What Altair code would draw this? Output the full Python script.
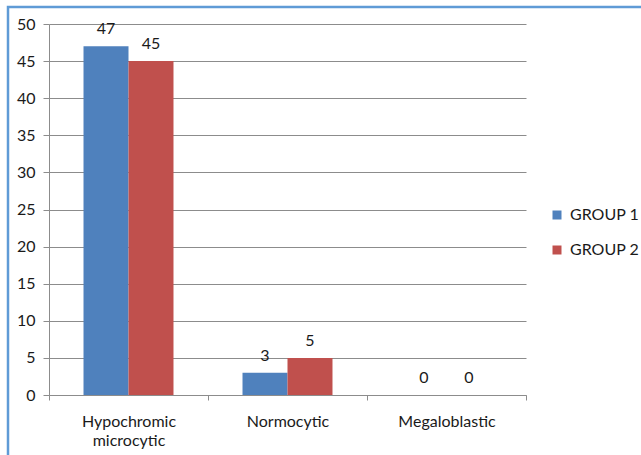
import altair as alt
import pandas as pd

categories = ["Hypochromic microcytic", "Normocytic", "Megaloblastic"]
groups = ["GROUP 1", "GROUP 2"]
group1 = [47, 3, 0]
group2 = [45, 5, 0]
colors = ["#4F81BD", "#C0504D"]

rows = []
for cat, a, b in zip(categories, group1, group2):
    rows.append({"category": cat, "group": groups[0], "value": a})
    rows.append({"category": cat, "group": groups[1], "value": b})
df = pd.DataFrame(rows)

FONT = "Lato"
FS = 16
TEXT = "#1a1a1a"
W, H = 477, 371
PAD_L, PAD_T = 49, 24

x_enc = alt.X(
    "category:N",
    sort=categories,
    scale=alt.Scale(paddingInner=0, paddingOuter=0),
    axis=alt.Axis(
        title=None,
        labelAngle=0,
        labelExpr="split(datum.label, ' ')",
        labelFont=FONT,
        labelFontSize=FS,
        labelColor=TEXT,
        labelPadding=13,
        labelLineHeight=19,
        tickBand="extent",
        tickSize=5,
        tickColor="#8c8c8c",
        domainColor="#8c8c8c",
        grid=False,
    ),
)
xoff_enc = alt.XOffset(
    "group:N", sort=groups, scale=alt.Scale(paddingInner=0, paddingOuter=0.767)
)
y_enc = alt.Y(
    "value:Q",
    scale=alt.Scale(domain=[0, 50], nice=False),
    axis=alt.Axis(
        title=None,
        values=list(range(0, 51, 5)),
        labelOverlap=False,
        labelFont=FONT,
        labelFontSize=FS,
        labelColor=TEXT,
        labelPadding=8,
        tickSize=6,
        tickColor="#8c8c8c",
        domainColor="#8c8c8c",
        gridColor="#8c8c8c",
        gridWidth=1,
    ),
)
color_enc = alt.Color(
    "group:N",
    sort=groups,
    scale=alt.Scale(domain=groups, range=colors),
    legend=alt.Legend(
        title=None,
        orient="none",
        legendX=500,
        legendY=183,
        symbolType="square",
        symbolSize=81,
        symbolStrokeWidth=0,
        labelFont=FONT,
        labelFontSize=FS,
        labelColor=TEXT,
        labelOffset=5,
        rowPadding=19,
    ),
)

bars = alt.Chart(df).mark_bar(strokeWidth=0).encode(
    x=x_enc, xOffset=xoff_enc, y=y_enc, color=color_enc
)

labels = alt.Chart(df).mark_text(
    font=FONT, fontSize=FS, color=TEXT, baseline="middle", dy=-17
).encode(
    x=x_enc,
    xOffset=xoff_enc,
    y=y_enc,
    text="value:Q",
)

frame = alt.Chart(pd.DataFrame({"k": [0]})).mark_rect(
    fill=None, stroke="#5F9BD6", strokeWidth=2.5
).encode(
    x=alt.value(8 - PAD_L),
    x2=alt.value(700),
    y=alt.value(7 - PAD_T),
    y2=alt.value(520),
)

chart = (
    alt.layer(frame, bars, labels)
    .properties(
        width=W,
        height=H,
        autosize=alt.AutoSizeParams(type="none"),
        padding={"left": PAD_L, "top": PAD_T, "right": 641 - PAD_L - W, "bottom": 455 - PAD_T - H},
        background="white",
    )
    .configure_view(stroke=None)
)

chart.save("out.html", embed_options={"renderer": "svg", "actions": False})
